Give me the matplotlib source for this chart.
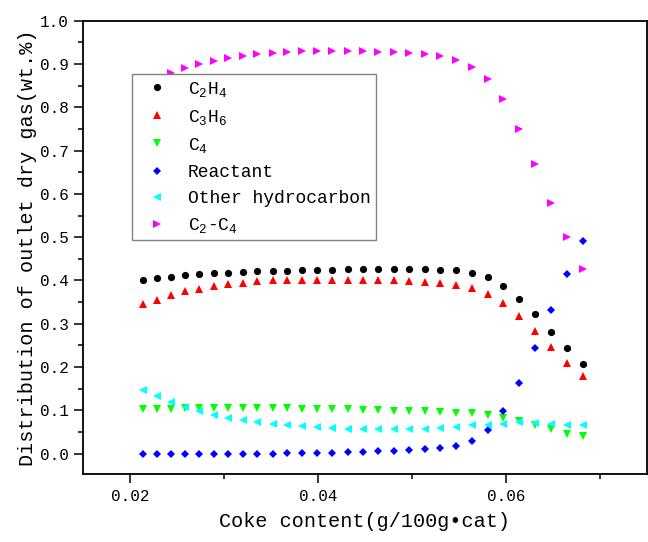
import numpy as np
import matplotlib
matplotlib.use("Agg")
from matplotlib import pyplot as plt
from matplotlib.ticker import MultipleLocator

plt.rcParams['font.family'] = ['Liberation Mono', 'DejaVu Sans Mono']
plt.rcParams['mathtext.fontset'] = 'custom'
plt.rcParams['mathtext.rm'] = 'Liberation Mono'
plt.rcParams['mathtext.it'] = 'Liberation Mono'
plt.rcParams['mathtext.default'] = 'rm'

# coke content on catalyst (g/100g cat)
coke = [0.02138, 0.02285, 0.02431, 0.02581, 0.02731, 0.02885, 0.03038, 0.03196,
        0.03350, 0.03512, 0.03665, 0.03827, 0.03988, 0.04150, 0.04312, 0.04473,
        0.04635, 0.04800, 0.04965, 0.05131, 0.05296, 0.05462, 0.05631, 0.05800,
        0.05965, 0.06135, 0.06304, 0.06473, 0.06642, 0.06812]

# outlet dry gas composition
c2h4 = [0.402, 0.406, 0.409, 0.412, 0.415, 0.417, 0.418, 0.420, 0.422, 0.422,
        0.423, 0.424, 0.425, 0.425, 0.426, 0.426, 0.426, 0.426, 0.426, 0.426,
        0.425, 0.424, 0.418, 0.408, 0.388, 0.358, 0.322, 0.282, 0.244, 0.208]
c3h6 = [0.345, 0.356, 0.366, 0.375, 0.381, 0.388, 0.392, 0.395, 0.398, 0.400,
        0.402, 0.402, 0.402, 0.402, 0.402, 0.402, 0.401, 0.400, 0.398, 0.396,
        0.395, 0.390, 0.382, 0.369, 0.348, 0.318, 0.283, 0.246, 0.210, 0.180]
c4 = [0.102, 0.102, 0.104, 0.105, 0.106, 0.106, 0.106, 0.105, 0.105, 0.105,
      0.105, 0.104, 0.103, 0.102, 0.102, 0.101, 0.100, 0.099, 0.098, 0.098,
      0.097, 0.095, 0.093, 0.089, 0.083, 0.075, 0.065, 0.056, 0.046, 0.041]
reactant = [0.000, 0.000, 0.000, 0.000, 0.000, 0.000, 0.000, 0.000, 0.000, 0.000,
            0.001, 0.001, 0.002, 0.002, 0.003, 0.004, 0.005, 0.007, 0.009, 0.011,
            0.013, 0.018, 0.030, 0.054, 0.098, 0.162, 0.244, 0.331, 0.415, 0.490]
other_hc = [0.148, 0.133, 0.119, 0.108, 0.098, 0.089, 0.082, 0.077, 0.073, 0.069,
            0.066, 0.064, 0.062, 0.060, 0.058, 0.058, 0.058, 0.058, 0.058, 0.058,
            0.060, 0.062, 0.065, 0.067, 0.069, 0.072, 0.070, 0.069, 0.067, 0.065]
c2_c4 = [0.850, 0.865, 0.879, 0.890, 0.900, 0.908, 0.914, 0.919, 0.923, 0.926,
         0.928, 0.929, 0.929, 0.930, 0.930, 0.929, 0.928, 0.927, 0.925, 0.922,
         0.918, 0.909, 0.894, 0.865, 0.818, 0.751, 0.670, 0.580, 0.500, 0.427]

series = [
    (c2h4, 'o', 'black', r'C$_2$H$_4$'),
    (c3h6, '^', 'red', r'C$_3$H$_6$'),
    (c4, 'v', '#00ff00', r'C$_4$'),
    (reactant, 'D', 'blue', 'Reactant'),
    (other_hc, '<', 'cyan', 'Other hydrocarbon'),
    (c2_c4, '>', 'magenta', r'C$_2$-C$_4$'),
]

fig = plt.figure(figsize=(6.48, 5.42), dpi=100)
ax = fig.add_axes([0.1286, 0.1255, 0.8691, 0.8363])

for vals, mk, col, lab in series:
    ms = 4.2 if mk == 'D' else 5.2
    ax.plot(coke, vals, linestyle='none', marker=mk, color=col,
            markersize=ms, markeredgewidth=0, label=lab)

ax.set_xlim(0.015, 0.0749)
ax.set_ylim(-0.047, 1.0)
ax.xaxis.set_major_locator(MultipleLocator(0.02))
ax.xaxis.set_minor_locator(MultipleLocator(0.01))
ax.yaxis.set_major_locator(MultipleLocator(0.1))
ax.yaxis.set_minor_locator(MultipleLocator(0.05))
ax.xaxis.set_major_formatter(lambda v, p: f"{v:.2f}")
ax.yaxis.set_major_formatter(lambda v, p: f"{v:.1f}")

ax.tick_params(which='major', direction='out', length=6.5, width=1.1,
               labelsize=11.5, pad=4)
ax.tick_params(which='minor', direction='out', length=3.3, width=1.1)
ax.tick_params(axis='x', which='both', top=False)
ax.tick_params(axis='y', which='both', right=False)
for sp in ax.spines.values():
    sp.set_linewidth(1.3)

ax.set_xlabel("Coke content(g/100g\u2022cat)", fontsize=14.5, labelpad=6)
ax.set_ylabel("Distribution of outlet dry gas(wt.%)", fontsize=14.5, labelpad=2)

leg = ax.legend(loc='upper left', bbox_to_anchor=(0.0859, 0.8817),
                borderaxespad=0, fontsize=13, frameon=True, fancybox=False,
                framealpha=1, edgecolor='#808080', borderpad=0.3,
                handlelength=2.2, handletextpad=0.6, labelspacing=0.5,
                markerscale=1.0)
leg.get_frame().set_linewidth(1.0)

fig.savefig("out.png", dpi=100)
